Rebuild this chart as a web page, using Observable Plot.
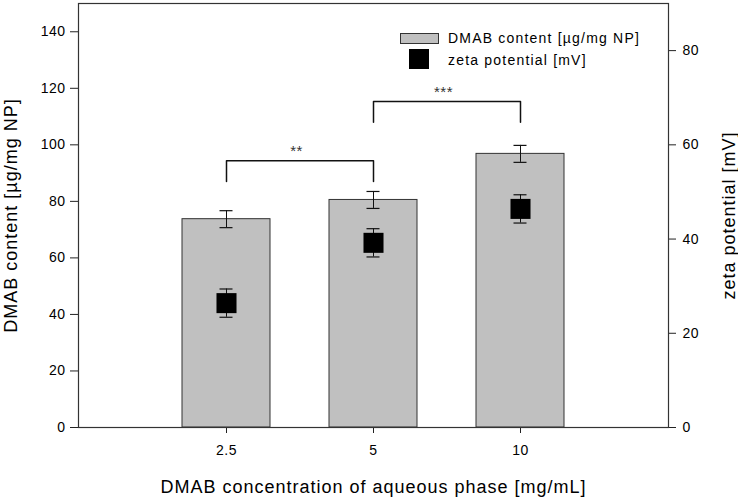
<!DOCTYPE html>
<html>
<head>
<meta charset="utf-8">
<script src="https://cdn.jsdelivr.net/npm/d3@7"></script>
<script src="https://cdn.jsdelivr.net/npm/@observablehq/plot@0.6"></script>
<style>
  html, body { margin: 0; padding: 0; background: #fff; }
  #wrap { position: relative; width: 738px; height: 499px; font-family: "Liberation Sans", Arial, sans-serif; }
  .leg { position: absolute; font-size: 14px; letter-spacing: 1.2px; color: #000; }
  .sw { position: absolute; box-sizing: border-box; }
</style>
</head>
<body>
<div id="wrap"></div>
<script>
// ---- data ----
const categories = ["2.5", "5", "10"];
const dmabContent = [73.7, 80.5, 96.8];
const dmabError = [3.0, 3.0, 3.0];
const zetaPotential = [26.4, 39.2, 46.4];
const zetaError = [3.0, 3.0, 3.0];
const leftTicks = [0, 20, 40, 60, 80, 100, 120, 140];
const rightTicks = [0, 20, 40, 60, 80];
const bracketFrom = ["2.5", "5"];
const bracketTo = ["5", "10"];
const bracketBase = [87, 108];
const bracketTop = [94.4, 115.3];
const bracketLabels = ["**", "***"];

const leftMax = 150, rightMax = 90, k = leftMax / rightMax;

const rows = categories.map((c, i) => ({
  cat: c, dmab: dmabContent[i], dErr: dmabError[i], zeta: zetaPotential[i] * k, zErr: zetaError[i] * k
}));
const brackets = bracketFrom.map((f, i) => ({from: f, to: bracketTo[i], base: bracketBase[i], top: bracketTop[i], label: bracketLabels[i]}));
const bracketPts = brackets.flatMap((b, i) => [
  {id: i, x: b.from, y: b.base}, {id: i, x: b.from, y: b.top},
  {id: i, x: b.to, y: b.top}, {id: i, x: b.to, y: b.base}
]);

const font = "'Liberation Sans', Arial, sans-serif";
const capInset = (88 - 13) / 2;

const chart = Plot.plot({
  width: 738, height: 499,
  marginLeft: 78, marginRight: 70, marginTop: 3, marginBottom: 72,
  style: {fontFamily: font, fontSize: "14px", color: "#000", background: "#fff", letterSpacing: "0.5px"},
  x: {type: "band", domain: categories, paddingInner: 0.4, paddingOuter: 0.7},
  y: {domain: [0, leftMax]},
  marks: [
    Plot.barY(rows, {x: "cat", y: "dmab", fill: "#c0c0c0", stroke: "#333", strokeWidth: 1}),
    Plot.ruleX(rows, {x: "cat", y1: d => d.dmab - d.dErr, y2: d => d.dmab + d.dErr, stroke: "#111", strokeWidth: 1}),
    Plot.tickY(rows, {x: "cat", y: d => d.dmab - d.dErr, insetLeft: capInset, insetRight: capInset, stroke: "#111", strokeWidth: 1.2}),
    Plot.tickY(rows, {x: "cat", y: d => d.dmab + d.dErr, insetLeft: capInset, insetRight: capInset, stroke: "#111", strokeWidth: 1.2}),
    Plot.ruleX(rows, {x: "cat", y1: d => d.zeta - d.zErr, y2: d => d.zeta + d.zErr, stroke: "#111", strokeWidth: 1}),
    Plot.tickY(rows, {x: "cat", y: d => d.zeta - d.zErr, insetLeft: capInset, insetRight: capInset, stroke: "#111", strokeWidth: 1.2}),
    Plot.tickY(rows, {x: "cat", y: d => d.zeta + d.zErr, insetLeft: capInset, insetRight: capInset, stroke: "#111", strokeWidth: 1.2}),
    Plot.dot(rows, {x: "cat", y: "zeta", symbol: "square", r: 11.3, fill: "#000", stroke: "none"}),
    Plot.line(bracketPts, {x: "x", y: "y", z: "id", stroke: "#111", strokeWidth: 1.5, curve: "linear"}),
    Plot.text(brackets, {x: "from", y: "top", text: "label", dx: 70, dy: -9, fontSize: 15, fill: "#333"}),
    Plot.axisY({ticks: leftTicks, anchor: "left", tickSize: 8, tickPadding: 5, label: null, fontSize: 14, stroke: "#222"}),
    Plot.axisY(rightTicks.map(v => v * k), {anchor: "right", tickFormat: d => String(Math.round(d / k)), tickSize: 7, tickPadding: 7, label: null, fontSize: 14, stroke: "#222"}),
    Plot.axisX({tickSize: 6, tickPadding: 12, label: null, fontSize: 14, stroke: "#222"}),
    Plot.frame({stroke: "#333", strokeWidth: 1.2}),
    Plot.text(["DMAB content [µg/mg NP]"], {frameAnchor: "left", dx: -67, rotate: -90, fontSize: 18, text: d => d, textAnchor: "middle", lineAnchor: "middle"}),
    Plot.text(["zeta potential [mV]"], {frameAnchor: "right", dx: 61, rotate: -90, fontSize: 18, text: d => d, textAnchor: "middle", lineAnchor: "middle"}),
    Plot.text(["DMAB concentration of aqueous phase [mg/mL]"], {frameAnchor: "bottom", dy: 60, fontSize: 18, text: d => d, lineAnchor: "middle"})
  ]
});
const wrap = document.getElementById("wrap");
wrap.appendChild(chart);
d3.select(chart).selectAll("g[aria-label='text'] text").filter(function() { return this.textContent.length > 15; }).style("letter-spacing", "1px");

// legend (HTML overlay)
const legendItems = [
  {label: "DMAB content [µg/mg NP]", fill: "#c0c0c0", border: "1px solid #333", left: 400, top: 33, w: 39, h: 11, tx: 448, ty: 30},
  {label: "zeta potential [mV]", fill: "#000", border: "none", left: 409, top: 49, w: 20, h: 20, tx: 448, ty: 52}
];
legendItems.forEach(it => {
  const sw = document.createElement("div");
  sw.className = "sw";
  Object.assign(sw.style, {left: it.left + "px", top: it.top + "px", width: it.w + "px", height: it.h + "px", background: it.fill, border: it.border});
  wrap.appendChild(sw);
  const t = document.createElement("div");
  t.className = "leg";
  t.textContent = it.label;
  Object.assign(t.style, {left: it.tx + "px", top: it.ty + "px"});
  wrap.appendChild(t);
});
</script>
</body>
</html>
